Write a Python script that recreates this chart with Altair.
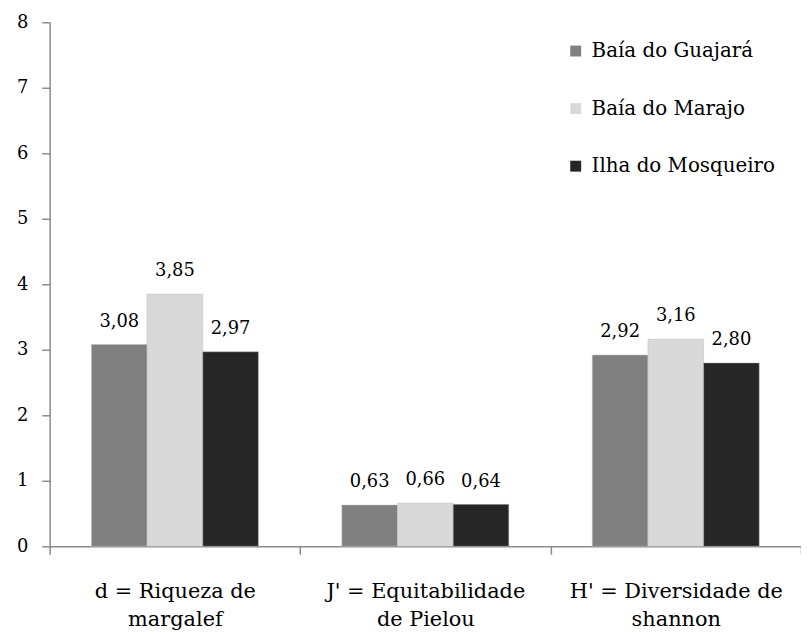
import altair as alt
import pandas as pd

categories = ["d = Riqueza de|margalef", "J' = Equitabilidade|de Pielou", "H' = Diversidade de|shannon"]
sites = ["Baía do Guajará", "Baía do Marajo", "Ilha do Mosqueiro"]
guajara = [3.08, 0.63, 2.92]
marajo = [3.85, 0.66, 3.16]
mosqueiro = [2.97, 0.64, 2.80]
colors = ["#808080", "#d9d9d9", "#262626"]
y_ticks = [0, 1, 2, 3, 4, 5, 6, 7, 8]

rows = []
for s, vals in zip(sites, [guajara, marajo, mosqueiro]):
    for c, v in zip(categories, vals):
        rows.append({"cat": c, "site": s, "value": v})
df = pd.DataFrame(rows)

FONT = "DejaVu Serif"
AX = "#8c8c8c"

x = alt.X("cat:N", sort=categories,
          scale=alt.Scale(paddingInner=0, paddingOuter=0),
          axis=alt.Axis(title=None, labelAngle=0, labelExpr="split(datum.label, '|')",
                        tickBand="extent", domainColor=AX, tickColor=AX, tickSize=8,
                        tickWidth=1.5, domainWidth=1.5,
                        labelFont=FONT, labelFontSize=21, labelColor="black",
                        labelPadding=27, labelLineHeight=28, labelLimit=0))
xo = alt.XOffset("site:N", sort=sites, scale=alt.Scale(paddingInner=0, paddingOuter=0.75))
y = alt.Y("value:Q", scale=alt.Scale(domain=[0, 8], nice=False),
          axis=alt.Axis(title=None, values=y_ticks, grid=False, domainColor=AX, tickColor=AX,
                        tickSize=8, tickWidth=1.5, domainWidth=1.5,
                        labelFont=FONT, labelFontSize=18, labelColor="black",
                        labelPadding=14))

bars = alt.Chart(df).mark_bar(stroke="#bdbdbd", strokeWidth=0.5).encode(
    x=x, xOffset=xo, y=y,
    color=alt.Color("site:N", sort=sites,
                    scale=alt.Scale(domain=sites, range=colors),
                    legend=alt.Legend(title=None, orient="none", legendX=520, legendY=19,
                                      symbolType="square", symbolSize=121, symbolStrokeWidth=0,
                                      labelFont=FONT, labelFontSize=20, labelColor="black",
                                      rowPadding=38, labelOffset=6, padding=0, labelLimit=0))
)

labels = alt.Chart(df).transform_calculate(
    lbl="replace(format(datum.value, '.2f'), '.', ',')"
).mark_text(font=FONT, fontSize=18, baseline="alphabetic", dy=-18, color="black").encode(
    x=x, xOffset=xo, y=y, text="lbl:N"
)

chart = (bars + labels).properties(
    width=757, height=528,
    autosize=alt.AutoSizeParams(type="none"),
    padding={"left": 42, "top": 12, "right": 0, "bottom": 85},
).configure_view(stroke=None)

chart.save("out.html", embed_options={"renderer": "svg", "actions": False})
